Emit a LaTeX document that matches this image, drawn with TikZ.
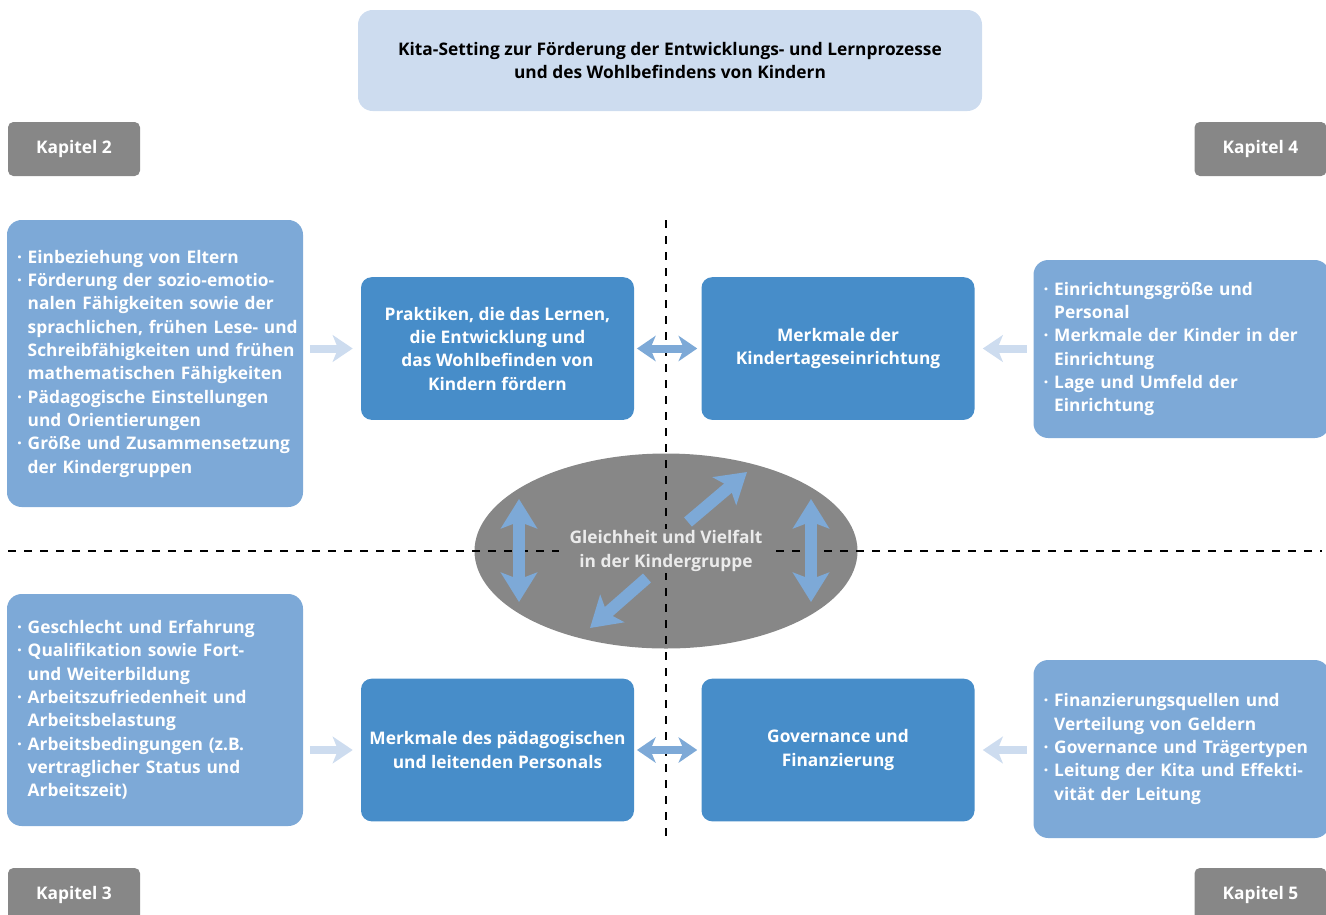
\documentclass[tikz,border=0pt]{standalone}
\usepackage{fontspec}
\setmainfont{Open Sans}
\usetikzlibrary{arrows.meta,shapes.geometric}
\definecolor{kgrau}{HTML}{878787}
\definecolor{hellblau}{HTML}{CDDCEF}
\definecolor{mittelblau}{HTML}{7DA9D7}
\definecolor{dunkelblau}{HTML}{478DC9}
\newcommand{\ein}{\phantom{·\ }}
\newcommand{\zl}[1]{\mbox{#1}}
\begin{document}
\begin{tikzpicture}[x=0.75pt, y=-0.75pt, font=\bfseries\fontsize{13}{17.5}\selectfont,
    kapitel/.style={fill=kgrau, text=white, rounded corners=4pt, minimum width=99pt, minimum height=40.5pt},
    feld/.style={fill=mittelblau, text=white, rounded corners=11pt, align=left, inner xsep=7.5pt, text width=207pt},
    kern/.style={fill=dunkelblau, text=white, rounded corners=8pt, align=center, minimum width=204.75pt, minimum height=107pt},
    pfeil/.style={hellblau, line width=6pt, -{Stealth[length=15pt, width=20pt, inset=4pt]}},
    doppel/.style={mittelblau, line width=6pt, {Stealth[length=14pt, width=19pt, inset=4pt]}-{Stealth[length=14pt, width=19pt, inset=4pt]}},
    kreis/.style={mittelblau, line width=9pt, -{Stealth[length=22pt, width=27pt, inset=5pt]}},
    kreis2/.style={mittelblau, line width=9pt, {Stealth[length=22pt, width=27pt, inset=5pt]}-{Stealth[length=22pt, width=27pt, inset=5pt]}},
    trenn/.style={line width=0.9pt, dash pattern=on 6pt off 6pt}]
    \useasboundingbox (0,0) rectangle (1326,914);
    \node[fill=hellblau, rounded corners=11pt, align=center, minimum width=468pt, minimum height=75.75pt] (titel) at (670,60.5)
        {Kita-Setting zur Förderung der Entwicklungs- und Lernprozesse\\und des Wohlbefindens von Kindern};
    \node[kapitel] (k2) at (74,149) {Kapitel 2};
    \node[kapitel] (k4) at (1260.5,149) {Kapitel 4};
    \node[kapitel] (k3) at (74,895) {Kapitel 3};
    \node[kapitel] (k5) at (1260.5,895) {Kapitel 5};
    \node[feld, minimum height=215.25pt] (lo) at (155,363.5)
        {\zl{· Einbeziehung von Eltern}\\\zl{· Förderung der sozio-emotio-}\\\zl{\ein nalen Fähigkeiten sowie der}\\\zl{\ein sprachlichen, frühen Lese- und}\\\zl{\ein Schreibfähigkeiten und frühen}\\\zl{\ein mathematischen Fähigkeiten}\\\zl{· Pädagogische Einstellungen}\\\zl{\ein und Orientierungen}\\\zl{· Größe und Zusammensetzung}\\\zl{\ein der Kindergruppen}};
    \node[feld, minimum height=133.5pt] (ro) at (1181.5,349)
        {· Einrichtungsgröße und\\\ein Personal\\\zl{· Merkmale der Kinder in der}\\\ein Einrichtung\\· Lage und Umfeld der\\\ein Einrichtung};
    \node[feld, minimum height=174pt] (lu) at (155,710)
        {· Geschlecht und Erfahrung\\· Qualifikation sowie Fort-\\\ein und Weiterbildung\\· Arbeitszufriedenheit und\\\ein Arbeitsbelastung\\\zl{· Arbeitsbedingungen (z.B.}\\\zl{\ein vertraglicher Status und}\\\ein Arbeitszeit)};
    \node[feld, minimum height=133.5pt] (ru) at (1181.5,749)
        {\zl{· Finanzierungsquellen und}\\\ein Verteilung von Geldern\\\zl{· Governance und Trägertypen}\\\zl{· Leitung der Kita und Effekti-}\\\ein vität der Leitung};
    \node[kern] (praxis) at (497.5,348.5) {Praktiken, die das Lernen,\\die Entwicklung und\\das Wohlbefinden von\\Kindern fördern};
    \node[kern] (kita) at (838,348.5) {Merkmale der\\Kindertageseinrichtung};
    \node[kern] (personal) at (497.5,750) {Merkmale des pädagogischen\\und leitenden Personals};
    \node[kern] (gov) at (838,750) {Governance und\\Finanzierung};
    \node[ellipse, fill=kgrau, minimum width=287.25pt, minimum height=146.25pt] (ell) at (666,551) {};
    \draw[trenn] (666,220) -- (666,842);
    \draw[trenn] (8,551) -- (1322,551);
    \draw[pfeil, shorten <=5pt, shorten >=6pt] (lo.east |- praxis.west) -- (praxis.west);
    \draw[pfeil, shorten <=5pt, shorten >=6pt] (ro.west |- kita.east) -- (kita.east);
    \draw[pfeil, shorten <=5pt, shorten >=6pt] (lu.east |- personal.west) -- (personal.west);
    \draw[pfeil, shorten <=5pt, shorten >=6pt] (ru.west |- gov.east) -- (gov.east);
    \draw[doppel, shorten <=2pt, shorten >=3pt] (praxis.east) -- (kita.west);
    \draw[doppel, shorten <=2pt, shorten >=3pt] (personal.east) -- (gov.west);
    \coordinate (a1) at (519,499);
    \coordinate (a2) at (519,602);
    \coordinate (b1) at (811,499);
    \coordinate (b2) at (811,602);
    \coordinate (c1) at (688,522);
    \coordinate (c2) at (747,472);
    \coordinate (d1) at (647,578);
    \coordinate (d2) at (590,628);
    \draw[kreis2] (a1) -- (a2);
    \draw[kreis2] (b1) -- (b2);
    \draw[kreis] (c1) -- (c2);
    \draw[kreis] (d1) -- (d2);
    \node[fill=kgrau, text=white!92!black, align=center, inner xsep=8pt, inner ysep=1pt] (vielfalt) at (666,551)
        {Gleichheit und Vielfalt\\in der Kindergruppe};
\end{tikzpicture}
\end{document}
